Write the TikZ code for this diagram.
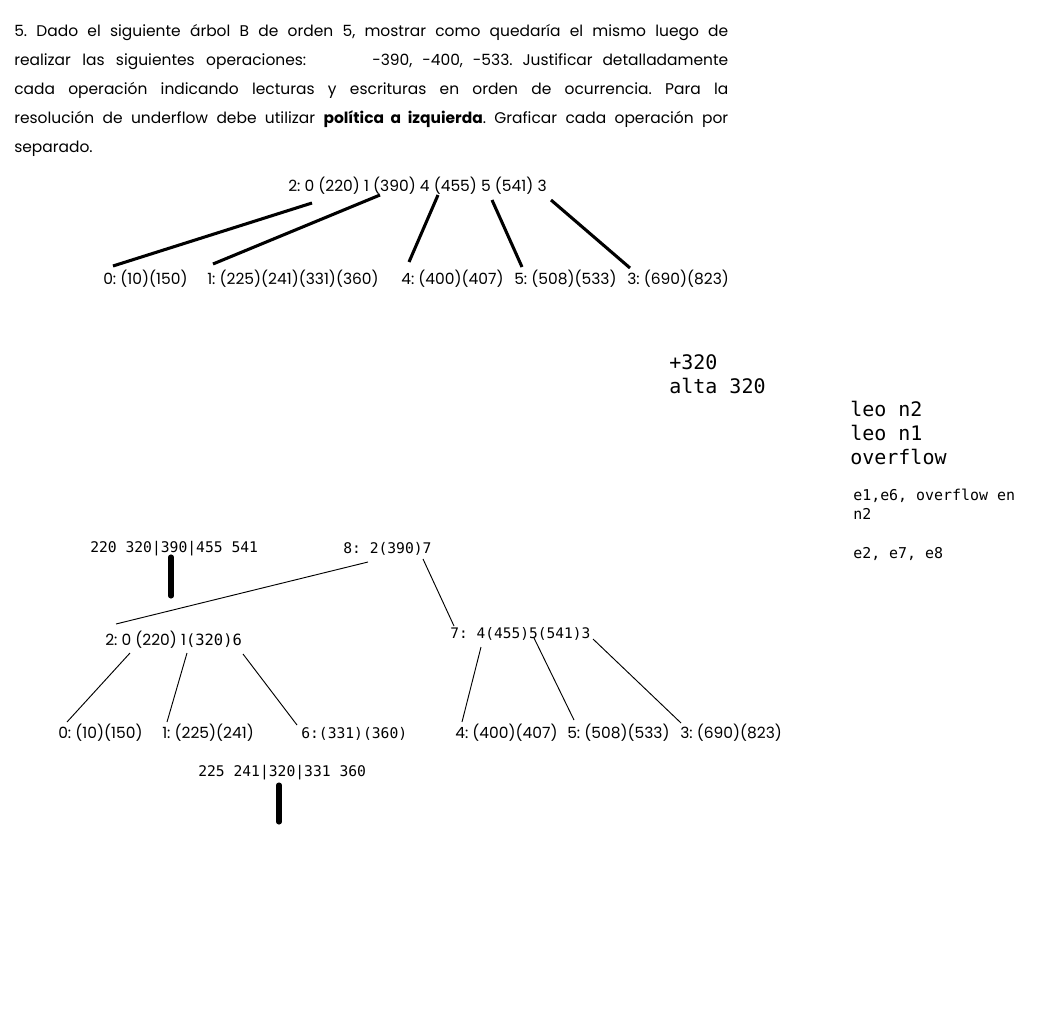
\documentclass[tikz,border=0pt]{standalone}
\usepackage{fontspec}
\setmainfont{Poppins}
\newfontfamily\monof{DejaVu Sans Mono}
\usetikzlibrary{calc}
\frenchspacing
\tikzset{
  qline/.style={inner sep=0pt, anchor=base west, font=\fontsize{11.6}{13}\selectfont},
  lbl/.style={inner sep=0pt, anchor=base west, font=\fontsize{11.6}{13}\selectfont},
  mlbl/.style={inner sep=0pt, anchor=base west, font=\monof\fontsize{11}{13}\selectfont},
  bignote/.style={inner sep=0pt, anchor=base west, font=\monof\fontsize{15}{18}\selectfont},
  smallnote/.style={inner sep=0pt, anchor=base west, font=\monof\fontsize{11.2}{13}\selectfont},
  heavyedge/.style={line width=2.3pt},
  thinedge/.style={line width=0.7pt},
  markbar/.style={line width=3.8pt, line cap=round},
}
\begin{document}
\begin{tikzpicture}[x=0.75pt,y=-0.75pt]
\useasboundingbox (0,0) rectangle (1044,1016);
\fill[white] (0,0) rectangle (1044,1016);

% question text
\node[qline] (q1) at (14,37) {\makebox[535.5pt][s]{5. Dado el siguiente árbol B de orden 5, mostrar como quedaría el mismo luego de}};
\node[qline] (q2a) at (14,66) {\makebox[219pt][s]{realizar las siguientes operaciones:}};
\node[qline] (q2b) at (372,66) {\makebox[267pt][s]{-390, -400, -533. Justificar detalladamente}};
\node[qline] (q3) at (14,95) {\makebox[535.5pt][s]{cada operación indicando lecturas y escrituras en orden de ocurrencia. Para la}};
\node[qline] (q4) at (14,124) {\makebox[535.5pt][s]{resolución de underflow debe utilizar \textbf{política a izquierda}. Graficar cada operación por}};
\node[qline] (q5) at (14,153) {separado.};

% tree 1
\node[lbl] (t1root) at (288,192) {2: 0 (220) 1 (390) 4 (455) 5 (541) 3};
\node[lbl] (t1c0) at (103,284) {0: (10)(150)};
\node[lbl] (t1c1) at (207,284) {1: (225)(241)(331)(360)};
\node[lbl] (t1c4) at (401,284) {4: (400)(407)};
\node[lbl] (t1c5) at (514,284) {5: (508)(533)};
\node[lbl] (t1c3) at (627,284) {3: (690)(823)};
\draw[heavyedge] ($(t1root.base west)+(24,11)$) -- ($(t1c0.base west)+(10,-18)$);
\draw[heavyedge] ($(t1root.base west)+(92,3)$) -- ($(t1c1.base west)+(6,-20)$);
\draw[heavyedge] ($(t1root.base west)+(150,3)$) -- ($(t1c4.base west)+(8,-22)$);
\draw[heavyedge] ($(t1root.base west)+(204,8)$) -- ($(t1c5.base west)+(8,-17)$);
\draw[heavyedge] ($(t1root.base west)+(263,8)$) -- ($(t1c3.base west)+(3,-16)$);

% notes
\node[bignote] (nplus) at (669,369) {+320};
\node[bignote] (nalta) at (669,393) {alta 320};
\node[bignote] (nleo2) at (850,416) {leo n2};
\node[bignote] (nleo1) at (850,440) {leo n1};
\node[bignote] (nover) at (850,464) {overflow};
\node[smallnote] (ne1) at (853,500) {e1,e6, overflow en};
\node[smallnote] (ne2) at (853,519) {n2};
\node[smallnote] (ne3) at (853,558) {e2, e7, e8};

% tree 2
\node[mlbl] (hdr) at (90,552) {220 320|390|455 541};
\coordinate (bar1a) at ($(hdr.base west)+(81,5)$);
\coordinate (bar1b) at ($(hdr.base west)+(81,44)$);
\draw[markbar] (bar1a) -- (bar1b);

\node[mlbl] (r8) at (343,553) {8: 2(390)7};
\node[lbl] (n2) at (105,645) {2: 0 (220) 1{\monof\fontsize{11.6}{13}\selectfont(320)6}};
\node[mlbl, font=\monof\fontsize{10.9}{13}\selectfont] (n7) at (450,638) {7: 4(455)5(541)3};

\node[lbl] (b0) at (58,738) {0: (10)(150)};
\node[lbl] (b1) at (162,738) {1: (225)(241)};
\node[mlbl] (b6) at (301,738) {6:(331)(360)};
\node[lbl] (b4) at (455,738) {4: (400)(407)};
\node[lbl] (b5) at (567,738) {5: (508)(533)};
\node[lbl] (b3) at (680,738) {3: (690)(823)};

\draw[thinedge] ($(r8.base west)+(25,9)$) -- ($(n2.base west)+(11,-21)$);
\draw[thinedge] ($(r8.base west)+(80,6)$) -- ($(n7.base west)+(4,-12)$);
\draw[thinedge] ($(n2.base west)+(25,8)$) -- ($(b0.base west)+(9,-16)$);
\draw[thinedge] ($(n2.base west)+(82,8)$) -- ($(b1.base west)+(5,-16)$);
\draw[thinedge] ($(n2.base west)+(138,9)$) -- ($(b6.base west)+(-4,-13)$);
\draw[thinedge] ($(n7.base west)+(31,9)$) -- ($(b4.base west)+(7,-16)$);
\draw[thinedge] ($(n7.base west)+(84,0)$) -- ($(b5.base west)+(7,-18)$);
\draw[thinedge] ($(n7.base west)+(143,1)$) -- ($(b3.base west)+(1,-15)$);

\node[mlbl] (ftr) at (198,776) {225 241|320|331 360};
\coordinate (bar2a) at ($(ftr.base west)+(81,9)$);
\coordinate (bar2b) at ($(ftr.base west)+(81,46)$);
\draw[markbar] (bar2a) -- (bar2b);
\end{tikzpicture}
\end{document}
